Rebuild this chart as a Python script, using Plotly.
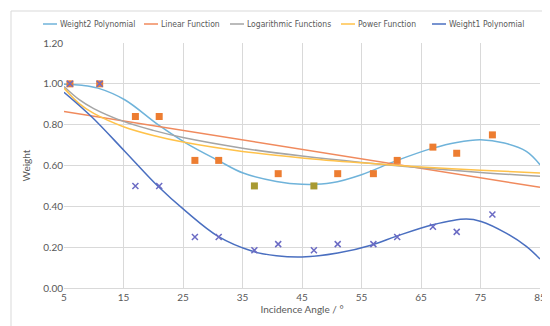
import plotly.graph_objects as go

# ---- Data ----
angles = [6, 11, 17, 21, 27, 31, 37, 41, 47, 51, 57, 61, 67, 71, 77]
weight2 = [1.00, 1.00, 0.84, 0.84, 0.625, 0.625, 0.50, 0.56, 0.50, 0.56, 0.56, 0.625, 0.69, 0.66, 0.75]
weight1 = [1.00, 1.00, 0.50, 0.50, 0.25, 0.25, 0.185, 0.215, 0.185, 0.215, 0.215, 0.25, 0.30, 0.275, 0.36]

# Trendline curves
w2poly_x = [5, 8, 10.7, 15.2, 20.8, 25.5, 30.9, 35.1, 40.7, 45, 50, 55, 61, 67, 71, 75, 79, 82.7, 85]
w2poly_y = [0.998, 0.993, 0.979, 0.922, 0.80, 0.71, 0.625, 0.563, 0.522, 0.508, 0.515, 0.555, 0.625,
            0.685, 0.713, 0.726, 0.71, 0.669, 0.604]
w1poly_x = [5, 9.6, 15.2, 20.8, 25.5, 30.9, 36.7, 40.7, 45, 51, 56.9, 60.8, 67, 72.6, 75.1, 79.3, 82.7, 85]
w1poly_y = [0.959, 0.84, 0.67, 0.498, 0.375, 0.253, 0.18, 0.158, 0.152, 0.171, 0.212, 0.253, 0.31,
            0.338, 0.326, 0.269, 0.204, 0.142]
linear_x = [5, 85]
linear_y = [0.865, 0.493]
log_x = [5, 7.5, 10, 15, 20, 25, 35, 45, 55, 65, 75, 85]
log_y = [0.987, 0.924, 0.879, 0.816, 0.772, 0.737, 0.685, 0.646, 0.615, 0.589, 0.566, 0.547]
power_x = [5, 7.5, 10, 15, 20, 25, 35, 45, 55, 65, 75, 85]
power_y = [0.979, 0.904, 0.855, 0.790, 0.747, 0.715, 0.669, 0.637, 0.613, 0.593, 0.577, 0.563]

x_ticks = [5, 15, 25, 35, 45, 55, 65, 75, 85]
y_ticks = [0.0, 0.2, 0.4, 0.6, 0.8, 1.0, 1.2]

series_names = ["Weight2 Polynomial", "Linear Function", "Logarithmic Functions",
                "Power Function", "Weight1 Polynomial"]
series_colors = ["#6fb3da", "#f08a5d", "#a5a5a5", "#ffc24a", "#4a6fc0"]

# ---- Layout geometry (pixels) ----
W, H = 550, 326
L, R, T, B = 56, 18, 35, 46
PW, PH = W - L - R, H - T - B


def px_x(p):
    return (p - L) / PW


def px_y(p):
    return (H - B - p) / PH


font = "Lato, Liberation Sans, sans-serif"
legend_font = "Liberation Sans Narrow, DejaVu Sans Condensed, Lato, sans-serif"
grey = "#595959"

fig = go.Figure()
curves = [(w2poly_x, w2poly_y), (linear_x, linear_y), (log_x, log_y), (power_x, power_y), (w1poly_x, w1poly_y)]
for (cx, cy), name, col in zip(curves, series_names, series_colors):
    fig.add_trace(go.Scatter(x=cx, y=cy, mode="lines", name=name, showlegend=False,
                             line=dict(color=col, width=1.5, shape="spline", smoothing=1.0)))

sq_colors = ["#ed7d31"] * len(angles)
sq_colors[6] = "#a89a32"
sq_colors[8] = "#a89a32"
fig.add_trace(go.Scatter(x=angles, y=weight2, mode="markers", showlegend=False, name="Weight2",
                         marker=dict(symbol="square", size=7, color=sq_colors)))
fig.add_trace(go.Scatter(x=angles, y=weight1, mode="markers", showlegend=False, name="Weight1",
                         marker=dict(symbol="x-thin", size=6, line=dict(color="#6b6bc4", width=1.5))))

# ---- Legend drawn as one row (line sample + real text) ----
legend_line_px = [(35, 49), (136, 150), (222, 236), (333, 347), (424, 438)]
legend_y_px = 16
shapes = []
annotations = []
for (a, b), name, col in zip(legend_line_px, series_names, series_colors):
    shapes.append(dict(type="line", xref="paper", yref="paper", x0=px_x(a), x1=px_x(b),
                       y0=px_y(legend_y_px), y1=px_y(legend_y_px), line=dict(color=col, width=1.5)))
    annotations.append(dict(text=name, xref="paper", yref="paper", x=px_x(b + 1), y=px_y(legend_y_px),
                            xanchor="left", yanchor="middle", showarrow=False,
                            font=dict(family=legend_font, size=8.5, color=grey)))

# chart border
shapes.append(dict(type="rect", xref="paper", yref="paper", x0=px_x(3), x1=px_x(546),
                   y0=px_y(322), y1=px_y(3), line=dict(color="#d9d9d9", width=1), layer="below"))

fig.update_layout(
    width=W, height=H,
    margin=dict(l=L, r=R, t=T, b=B),
    paper_bgcolor="white", plot_bgcolor="white",
    font=dict(family=font, size=10, color=grey),
    showlegend=False,
    xaxis=dict(range=[5, 85], tickvals=x_ticks, showgrid=True, gridcolor="#d9d9d9", gridwidth=1,
               zeroline=False, showline=True, linecolor="#d9d9d9", ticks="",
               tickfont=dict(size=10),
               title=dict(text="Incidence Angle / °", font=dict(size=10), standoff=0)),
    yaxis=dict(range=[0, 1.2], tickvals=y_ticks, tickformat=".2f", showgrid=True, gridcolor="#d9d9d9",
               gridwidth=1, zeroline=False, showline=False, ticks="",
               tickfont=dict(size=10),
               title=dict(text="Weight", font=dict(size=10), standoff=10)),
    shapes=shapes,
    annotations=annotations,
)

fig.write_html("out.html")
